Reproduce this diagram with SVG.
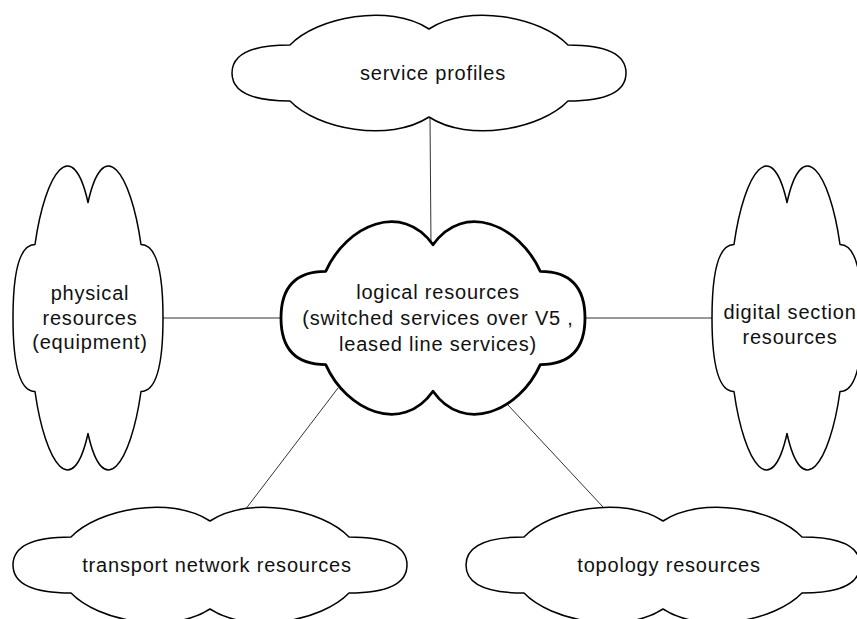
<svg xmlns="http://www.w3.org/2000/svg" width="857" height="619" viewBox="0 0 857 619">
<style>
.cloud{fill:#fff;stroke:#000;stroke-width:1.5;stroke-linejoin:round}
.core{stroke-width:2.8}
.conn{stroke:#333;stroke-width:1;fill:none}
text{font-family:"Liberation Sans",Arial,sans-serif;font-size:20px;letter-spacing:0.8px;fill:#111;text-anchor:middle}
</style>
<rect width="857" height="619" fill="#fff"/>
<g id="connectors">
<path class="conn" d="M430,117 L431,246"/>
<path class="conn" d="M163,318 H281"/>
<path class="conn" d="M585,318 H712"/>
<path class="conn" d="M338,388 L245,510"/>
<path class="conn" d="M508,405 L603,507"/>
</g>
<g id="service-profiles">
<path class="cloud" d="M232,73 C232,51 259,45 290,45 C317,17 389,3 429,29 C469,3 541,17 568,45 C599,45 626,51 626,73 C626,95 599,101 568,101 C541,129 469,143 429,117 C389,143 317,129 290,101 C259,101 232,95 232,73 Z"/>
<text x="433" y="80">service profiles</text>
</g>
<g id="physical-resources">
<path class="cloud" d="M13,318 C13,259.5 23.3,244.5 35,244.5 C45.3,171 72.8,133.5 88,202.5 C103.2,133.5 130.7,171 141,244.5 C152.7,244.5 163,259.5 163,318 C163,376.5 152.7,391.5 141,391.5 C130.7,465 103.2,502.5 88,433.5 C72.8,502.5 45.3,465 35,391.5 C23.3,391.5 13,376.5 13,318 Z"/>
<text x="90" y="300">physical</text>
<text x="90" y="325">resources</text>
<text x="90" y="349">(equipment)</text>
</g>
<g id="logical-resources">
<path class="cloud core" d="M281,318 C281,281 301.8,271.4 325.7,271.4 C346.5,224.9 402.1,201.1 433,244.8 C463.9,201.1 519.5,224.9 540.3,271.4 C564.2,271.4 585,281 585,318 C585,355 564.2,364.6 540.3,364.6 C519.5,411.1 463.9,434.9 433,391.2 C402.1,434.9 346.5,411.1 325.7,364.6 C301.8,364.6 281,355 281,318 Z"/>
<text x="438" y="299">logical resources</text>
<text x="438" y="325">(switched services over V5 ,</text>
<text x="438" y="351">leased line services)</text>
</g>
<g id="digital-section-resources">
<path class="cloud" d="M712,318 C712,259.5 722.3,244.5 734,244.5 C744.3,171 771.8,133.5 787,202.5 C802.2,133.5 829.7,171 840,244.5 C851.7,244.5 862,259.5 862,318 C862,376.5 851.7,391.5 840,391.5 C829.7,465 802.2,502.5 787,433.5 C771.8,502.5 744.3,465 734,391.5 C722.3,391.5 712,376.5 712,318 Z"/>
<text x="790" y="319">digital section</text>
<text x="790" y="344">resources</text>
</g>
<g id="transport-network-resources">
<path class="cloud" d="M13,565 C13,543 40,537 71,537 C98,509 170,495 210,521 C250,495 322,509 349,537 C380,537 407,543 407,565 C407,587 380,593 349,593 C322,621 250,635 210,609 C170,635 98,621 71,593 C40,593 13,587 13,565 Z"/>
<text x="217" y="572">transport network resources</text>
</g>
<g id="topology-resources">
<path class="cloud" d="M466,565 C466,543 493,537 524,537 C551,509 623,495 663,521 C703,495 775,509 802,537 C833,537 860,543 860,565 C860,587 833,593 802,593 C775,621 703,635 663,609 C623,635 551,621 524,593 C493,593 466,587 466,565 Z"/>
<text x="669" y="572">topology resources</text>
</g>
</svg>
